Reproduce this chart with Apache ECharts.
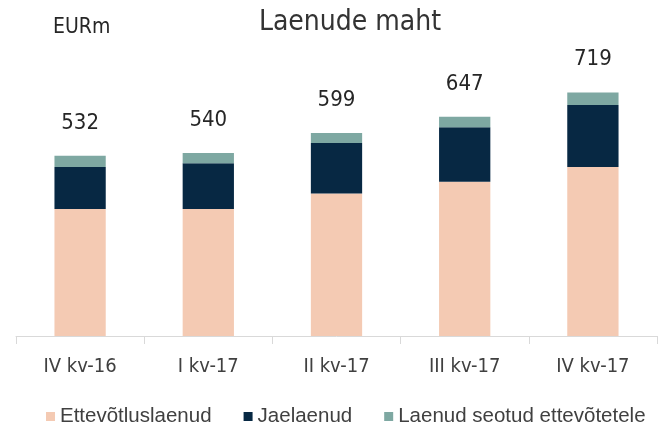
<!DOCTYPE html>
<html><head><meta charset="utf-8">
<script src="https://cdn.jsdelivr.net/npm/echarts@6/dist/echarts.min.js"></script>
<style>html,body{margin:0;padding:0;background:#fff}#c{width:662px;height:428px}</style>
</head><body><div id="c"></div>
<script>
const categories = ['IV kv-16', 'I kv-17', 'II kv-17', 'III kv-17', 'IV kv-17'];
const ettevotlus = [375, 375, 421, 455, 499];
const jae = [124, 135, 149, 161, 183];
const seotud = [33, 30, 29, 31, 37];
const totals = [532, 540, 599, 647, 719];
const seriesNames = ['Ettevõtluslaenud', 'Jaelaenud', 'Laenud seotud ettevõtetele'];
const colors = ['#F4CAB3', '#072843', '#7EA8A2'];
const NARROW = '"DejaVu Sans Condensed", "Liberation Sans", sans-serif';
const REG = '"Liberation Sans", Arial, sans-serif';

const chart = echarts.init(document.getElementById('c'), null, {renderer: 'canvas'});
const data = [ettevotlus, jae, seotud];
chart.setOption({
  animation: false,
  textStyle: {fontFamily: NARROW},
  title: [
    {text: 'Laenude maht', left: 345, top: 4, textAlign: 'center',
     textStyle: {fontFamily: NARROW, fontSize: 28, fontWeight: 'normal', color: '#333333'}},
    {text: 'EURm', left: 48, top: 12,
     textStyle: {fontFamily: NARROW, fontSize: 21, fontWeight: 'normal', color: '#262626'}}
  ],
  legend: {
    top: 406, left: 46, padding: 0, itemWidth: 9, itemHeight: 9, itemGap: 32,
    icon: 'rect',
    textStyle: {fontFamily: REG, fontSize: 20.5, color: '#404040'},
    data: seriesNames
  },
  grid: {left: 16, right: 5, top: 65, bottom: 92, containLabel: false},
  xAxis: {
    type: 'category', data: categories,
    axisLine: {lineStyle: {color: '#D9D9D9', width: 1}},
    axisTick: {show: true, length: 8, lineStyle: {color: '#D9D9D9'}},
    axisLabel: {fontFamily: NARROW, fontSize: 20, color: '#404040', margin: 21}
  },
  yAxis: {type: 'value', min: 0, max: 800, show: false, splitLine: {show: false}},
  series: seriesNames.map((n, i) => ({
    name: n, type: 'bar', stack: 'total', data: data[i], barCategoryGap: '60%',
    itemStyle: {color: colors[i]},
    label: i === 2 ? {
      show: true, position: 'top', distance: 22,
      fontFamily: NARROW, fontSize: 22, color: '#262626',
      formatter: p => String(totals[p.dataIndex])
    } : {show: false}
  }))
});
</script></body></html>
